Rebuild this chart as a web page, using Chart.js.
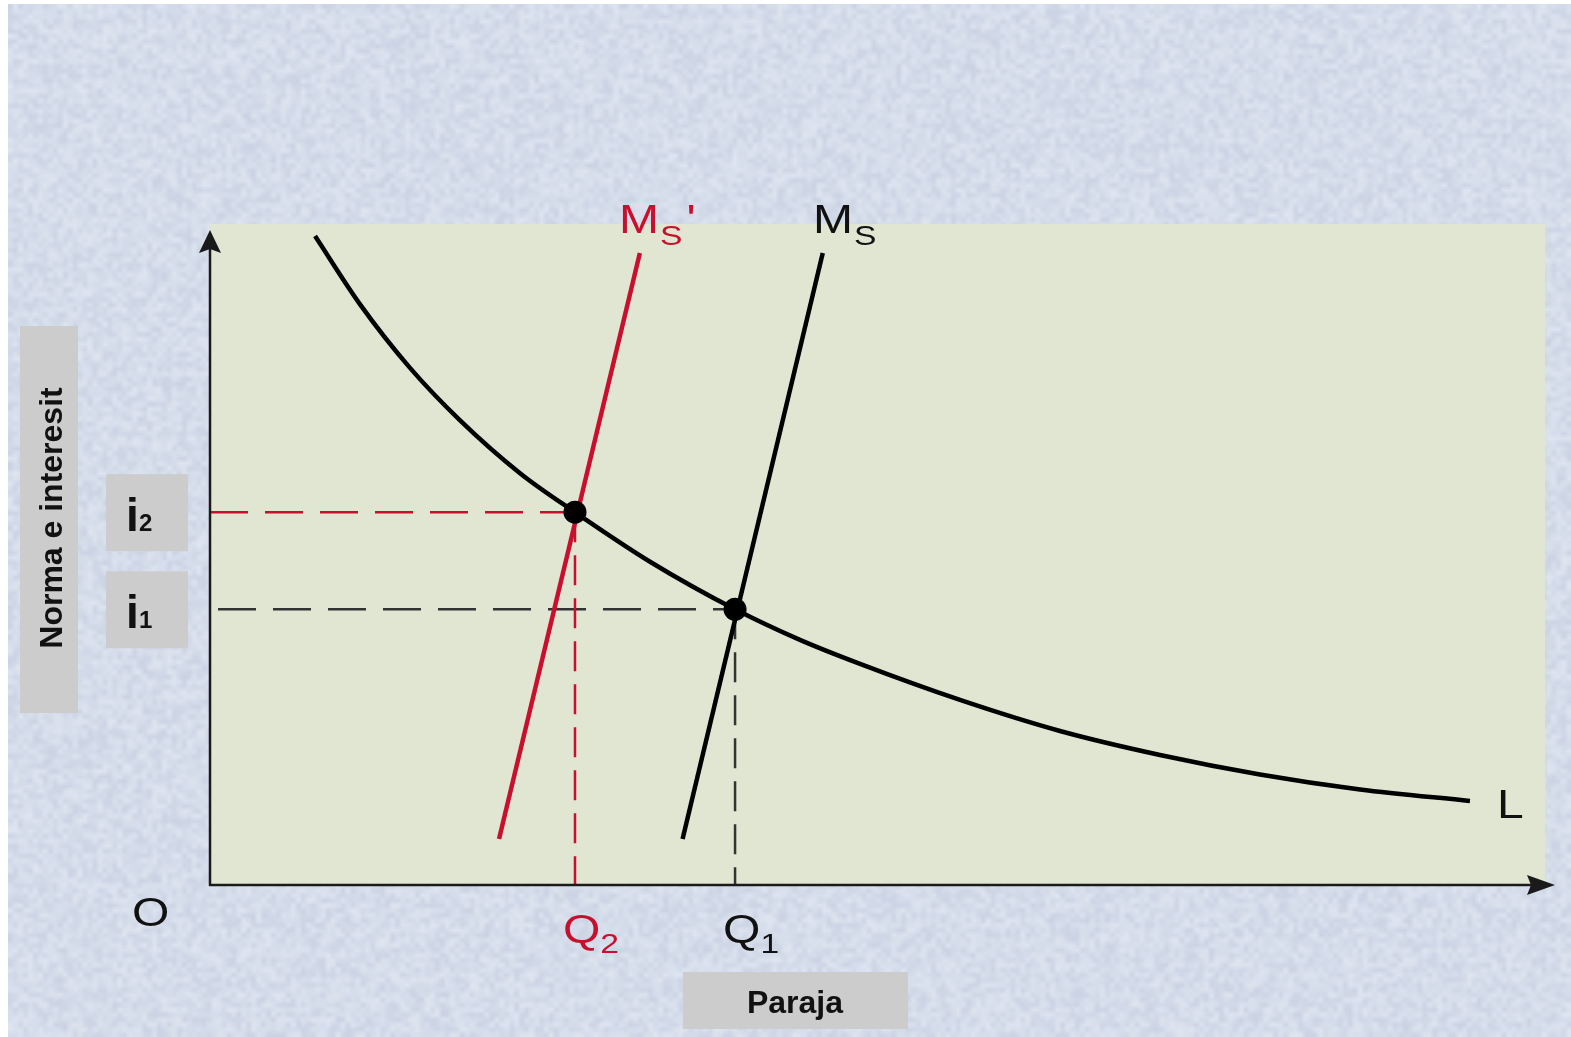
<!doctype html>
<html lang="en">
<head>
<meta charset="utf-8">
<title>Norma e interesit</title>
<style>
  html, body { margin: 0; padding: 0; background: #fff; }
  #chart { display: block; }
</style>
</head>
<body>
<script src="https://cdn.jsdelivr.net/npm/chart.js@4.4.0/dist/chart.umd.min.js"></script>
<canvas id="chart" width="1571" height="1037"></canvas>
<script>
// L - money demand curve
var lX = [7.87, 11.24, 14.98, 18.73, 23.22, 27.34, 32.96, 39.33, 44.19, 48.69, 56.18, 63.67, 71.16, 78.65, 86.14, 94.38];
var lY = [98.18, 87.84, 78.23, 70.29, 62.30, 56.40, 48.91, 41.71, 37.08, 33.45, 28.00, 23.30, 19.67, 16.72, 14.45, 12.71];
// money supply lines: Ms' (red) and Ms (black)
var msPrimeX = [21.65, 32.2];
var msPrimeY = [6.96, 95.6];
var msX = [35.4, 45.9];
var msY = [6.96, 95.6];
// equilibria (Q2, i2) and (Q1, i1)
var eqNames = ['2', '1'];
var eqQ = [27.34, 39.33];
var eqI = [56.4, 41.71];

var RED = '#c8102e';
var FONT = '"Liberation Sans", Arial, Helvetica, sans-serif';

function pts(xs, ys) {
  return xs.map(function(x, i) { return {x: x, y: ys[i]}; });
}

// mottled paper look of the page behind the plot (fixed hash, no randomness)
var paper = null;
function makePaper(w, h) {
  var cell = 5;
  var cw = Math.ceil(w / cell), ch = Math.ceil(h / cell);
  var off = document.createElement('canvas');
  off.width = cw; off.height = ch;
  var g = off.getContext('2d');
  var img = g.createImageData(cw, ch);
  for (var j = 0; j < ch; j++) {
    for (var i = 0; i < cw; i++) {
      var s = Math.sin(i * 12.9898 + j * 78.233) * 43758.5453;
      var v = (s - Math.floor(s) - 0.5) * 20;
      var k = (j * cw + i) * 4;
      img.data[k] = 213 + v;
      img.data[k + 1] = 220 + v;
      img.data[k + 2] = 234 + v * 0.7;
      img.data[k + 3] = 255;
    }
  }
  g.putImageData(img, 0, 0);
  return off;
}

// draws a label made of parts (letter + subscript), stretched sideways like the original art
function label(c, parts, x, y, color) {
  c.save();
  c.fillStyle = color;
  c.textAlign = 'left';
  c.textBaseline = 'alphabetic';
  var cx = x;
  parts.forEach(function(p) {
    c.font = p.size + 'px ' + FONT;
    c.save();
    c.translate(cx + (p.dx || 0), y + (p.dy || 0));
    c.scale(1.2, 1);
    c.fillText(p.t, 0, 0);
    c.restore();
    cx += c.measureText(p.t).width * 1.2 + (p.dx || 0);
  });
  c.restore();
}

function greyBox(c, x, y, w, h) {
  c.fillStyle = '#cccccc';
  c.fillRect(x, y, w, h);
}

var backdrop = {
  id: 'backdrop',
  beforeDraw: function(chart) {
    var c = chart.ctx, a = chart.chartArea;
    if (!paper) paper = makePaper(chart.width, chart.height);
    c.save();
    c.fillStyle = '#ffffff';
    c.fillRect(0, 0, chart.width, chart.height);
    c.imageSmoothingEnabled = true;
    c.drawImage(paper, 8, 4, chart.width - 8, chart.height - 4);
    c.fillStyle = '#e0e6d2';
    c.fillRect(a.left, a.top, a.right - a.left, a.bottom - a.top);
    c.restore();
  },
  afterDraw: function(chart) {
    var c = chart.ctx, a = chart.chartArea;
    var xs = chart.scales.x, ys = chart.scales.y;
    var x0 = xs.getPixelForValue(0), y0 = ys.getPixelForValue(0);

    // axes with arrow heads
    c.save();
    c.strokeStyle = '#1a1a1a';
    c.fillStyle = '#1a1a1a';
    c.lineWidth = 2.5;
    c.beginPath();
    c.moveTo(x0, y0 + 1);
    c.lineTo(x0, a.top + 20);
    c.moveTo(x0 - 1, y0);
    c.lineTo(a.right - 10, y0);
    c.stroke();
    c.beginPath();
    c.moveTo(x0, a.top + 6);
    c.lineTo(x0 + 11, a.top + 29);
    c.lineTo(x0, a.top + 25);
    c.lineTo(x0 - 11, a.top + 29);
    c.closePath();
    c.fill();
    c.beginPath();
    c.moveTo(a.right + 10, y0);
    c.lineTo(a.right - 18, y0 - 10);
    c.lineTo(a.right - 14, y0);
    c.lineTo(a.right - 18, y0 + 10);
    c.closePath();
    c.fill();
    c.restore();

    // curve names
    label(c, [{t: 'M', size: 40}, {t: 'S', size: 28, dy: 12, dx: 1}, {t: '\'', size: 40, dx: 4}], 619, 233, RED);
    label(c, [{t: 'M', size: 40}, {t: 'S', size: 28, dy: 12, dx: 1}], 813, 233, '#111');
    label(c, [{t: 'L', size: 40}], 1497, 818, '#111');
    label(c, [{t: 'O', size: 40}], 132, 926, '#111');

    // Q labels under the axis
    eqQ.forEach(function(q, k) {
      var px = xs.getPixelForValue(q);
      var col = k === 0 ? RED : '#111';
      label(c, [{t: 'Q', size: 40}, {t: eqNames[k], size: 28, dy: 10}], px - 12, 943, col);
    });

    // i labels in grey boxes
    eqI.forEach(function(v, k) {
      var py = ys.getPixelForValue(v);
      greyBox(c, 106, py - 38, 82, 77);
      c.save();
      c.fillStyle = '#111';
      c.textBaseline = 'alphabetic';
      c.textAlign = 'left';
      c.font = 'bold 46px ' + FONT;
      c.fillText('i', 126, py + 19);
      c.font = 'bold 24px ' + FONT;
      c.fillText(eqNames[k], 139, py + 19);
      c.restore();
    });

    // axis titles
    greyBox(c, 20, 326, 58, 387);
    c.save();
    c.fillStyle = '#111';
    c.font = 'bold 32px ' + FONT;
    c.textAlign = 'center';
    c.textBaseline = 'alphabetic';
    c.translate(62, 518);
    c.rotate(-Math.PI / 2);
    c.fillText('Norma e interesit', 0, 0);
    c.restore();

    greyBox(c, 683, 972, 225, 57);
    c.save();
    c.fillStyle = '#111';
    c.font = 'bold 32px ' + FONT;
    c.textAlign = 'center';
    c.textBaseline = 'alphabetic';
    c.fillText('Paraja', 795, 1013);
    c.restore();
  }
};

new Chart(document.getElementById('chart'), {
  type: 'scatter',
  data: {
    datasets: [
      {
        label: 'equilibria',
        data: pts(eqQ, eqI),
        showLine: false,
        pointRadius: 11.5,
        pointBackgroundColor: '#000',
        pointBorderWidth: 0,
        order: 0
      },
      {
        label: 'L',
        data: pts(lX, lY),
        showLine: true,
        cubicInterpolationMode: 'monotone',
        borderColor: '#000',
        borderWidth: 4.5,
        pointRadius: 0,
        order: 1
      },
      {
        label: 'Ms',
        data: pts(msX, msY),
        showLine: true,
        borderColor: '#000',
        borderWidth: 4.5,
        pointRadius: 0,
        order: 1
      },
      {
        label: 'Ms\'',
        data: pts(msPrimeX, msPrimeY),
        showLine: true,
        borderColor: RED,
        borderWidth: 4.5,
        pointRadius: 0,
        order: 2
      },
      {
        label: 'i2',
        data: [{x: 0, y: eqI[0]}, {x: eqQ[0], y: eqI[0]}],
        showLine: true,
        borderColor: RED,
        borderWidth: 2.5,
        borderDash: [38, 17],
        pointRadius: 0,
        order: 3
      },
      {
        label: 'Q2',
        data: [{x: eqQ[0], y: eqI[0]}, {x: eqQ[0], y: 0}],
        showLine: true,
        borderColor: RED,
        borderWidth: 2.5,
        borderDash: [30, 13],
        pointRadius: 0,
        order: 3
      },
      {
        label: 'i1',
        data: [{x: 0.6, y: eqI[1]}, {x: eqQ[1], y: eqI[1]}],
        showLine: true,
        borderColor: '#333',
        borderWidth: 2.5,
        borderDash: [38, 17],
        pointRadius: 0,
        order: 3
      },
      {
        label: 'Q1',
        data: [{x: eqQ[1], y: eqI[1]}, {x: eqQ[1], y: 0}],
        showLine: true,
        borderColor: '#333',
        borderWidth: 2.5,
        borderDash: [30, 13],
        pointRadius: 0,
        order: 3
      }
    ]
  },
  options: {
    responsive: false,
    animation: false,
    layout: { padding: { left: 210, right: 26, top: 224, bottom: 152 } },
    scales: {
      x: { type: 'linear', min: 0, max: 100, display: false },
      y: { type: 'linear', min: 0, max: 100, display: false }
    },
    plugins: {
      legend: { display: false },
      tooltip: { enabled: false }
    }
  },
  plugins: [backdrop]
});
</script>
</body>
</html>
